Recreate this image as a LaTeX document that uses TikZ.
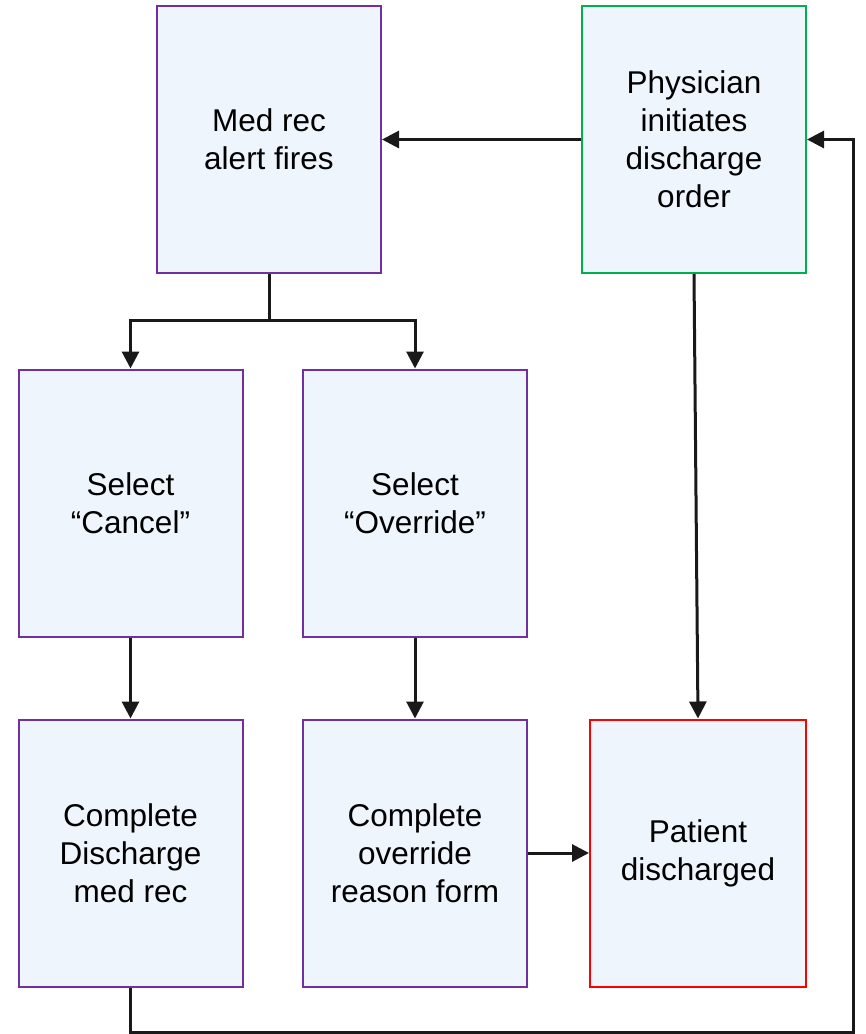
\documentclass[tikz,border=0pt]{standalone}
\usepackage{fontspec}
\setmainfont{Liberation Sans}
\usetikzlibrary{arrows.meta}
\definecolor{boxfill}{HTML}{EEF5FC}
\definecolor{cpurple}{HTML}{7030A0}
\definecolor{cgreen}{HTML}{00B050}
\definecolor{cred}{HTML}{FF0000}
\begin{document}
\begin{tikzpicture}[x=1pt,y=-1pt,
  box/.style={draw=cpurple,fill=boxfill,line width=2pt,inner sep=0pt,
    minimum width=224pt,minimum height=267pt,align=center,
    font=\fontsize{31.5}{38}\selectfont},
  conn/.style={line width=3pt,draw=black!90,-{Triangle[length=17pt,width=17pt]}},
  line/.style={line width=3pt,draw=black!90}]
\useasboundingbox (0,0) rectangle (866,1034);
\node[box] (medrec) at (269,139.5) {Med rec\\alert fires};
\node[box,draw=cgreen] (phys) at (694,139.5) {Physician\\initiates\\discharge\\order};
\node[box] (cancel) at (130.5,503) {Select\\``Cancel''};
\node[box] (override) at (415,503) {Select\\``Override''};
\node[box] (compmed) at (130.5,853) {Complete\\Discharge\\med rec};
\node[box] (compover) at (415,853) {Complete\\override\\reason form};
\node[box,draw=cred,minimum width=216pt] (patient) at (698,853) {Patient\\discharged};
\coordinate (split) at (269,320);
\draw[conn] (phys.west) -- (medrec.east);
\draw[line] (medrec.south) -- (split);
\draw[conn] (split) -| (cancel.north);
\draw[conn] (split) -| (override.north);
\draw[conn] (cancel.south) -- (compmed.north);
\draw[conn] (override.south) -- (compover.north);
\draw[conn] (phys.south) -- (patient.north);
\draw[conn] (compover.east) -- (patient.west);
\coordinate (c1) at (130.5,1032);
\coordinate (c2) at (853,1032);
\draw[conn] (compmed.south) -- (c1) -- (c2) |- (phys.east);
\end{tikzpicture}
\end{document}
